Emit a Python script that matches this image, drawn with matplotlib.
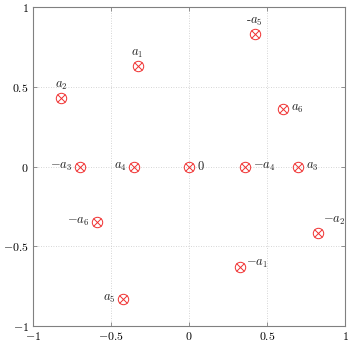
import matplotlib
matplotlib.use("Agg")
import matplotlib.pyplot as plt

plt.rcParams['mathtext.fontset'] = 'cm'
plt.rcParams['font.family'] = 'serif'
plt.rcParams['font.serif'] = ['cmr10', 'DejaVu Serif']
plt.rcParams['axes.formatter.use_mathtext'] = True

labels = ['$a_1$', '$a_2$', '$-a_3$', '$a_4$', '$0$', '$-a_4$', '$a_3$',
          '-$a_5$', '$a_6$', '$-a_6$', '$-a_2$', '$-a_1$', '$a_5$']
xs = [-0.33, -0.82, -0.70, -0.35, 0.0, 0.36, 0.70, 0.42, 0.60, -0.59, 0.83, 0.33, -0.42]
ys = [0.63, 0.43, 0.0, 0.0, 0.0, 0.0, 0.0, 0.83, 0.36, -0.35, -0.42, -0.63, -0.83]
label_side = ['above', 'above', 'left', 'left', 'right', 'right', 'right',
              'above', 'right', 'left', 'aboveright', 'rightup', 'left']
ticks = [-1, -0.5, 0, 0.5, 1]
tick_labels = ['$-1$', '$-0.5$', '$0$', '$0.5$', '$1$']

fig = plt.figure(figsize=(3.53, 3.46), dpi=100)
ax = fig.add_axes([33/353, 20/346, 312/353, 319/346])

ax.set_xlim(-1, 1)
ax.set_ylim(-1, 1)
ax.set_xticks(ticks)
ax.set_yticks(ticks)
ax.set_xticklabels(tick_labels)
ax.set_yticklabels(tick_labels)
ax.tick_params(direction='in', length=3, width=0.6, color='#808080',
               labelsize=8.5, top=True, right=True, pad=3)
for s in ax.spines.values():
    s.set_color('#808080')
    s.set_linewidth(0.8)
ax.grid(True, linestyle=(0, (1, 2)), color='#c8c8c8', linewidth=0.6)
ax.set_axisbelow(True)

red = '#f03030'
ax.plot(xs, ys, linestyle='none', marker='o', markersize=7.5, markerfacecolor='none',
        markeredgecolor=red, markeredgewidth=0.7)
ax.plot(xs, ys, linestyle='none', marker='x', markersize=5.3,
        markeredgecolor=red, markeredgewidth=0.7)

offsets = {'above': (0, 6, 'center', 'bottom'),
           'left': (-8, 0, 'right', 'center'),
           'right': (8, 0, 'left', 'center'),
           'rightup': (6, 3, 'left', 'center'),
           'aboveright': (5, 6, 'left', 'bottom')}
for x, y, lab, side in zip(xs, ys, labels, label_side):
    dx, dy, ha, va = offsets[side]
    ax.annotate(lab, (x, y), xytext=(dx, dy), textcoords='offset pixels',
                ha=ha, va=va, fontsize=9, color='#222222')

fig.savefig('out.png', dpi=100)
